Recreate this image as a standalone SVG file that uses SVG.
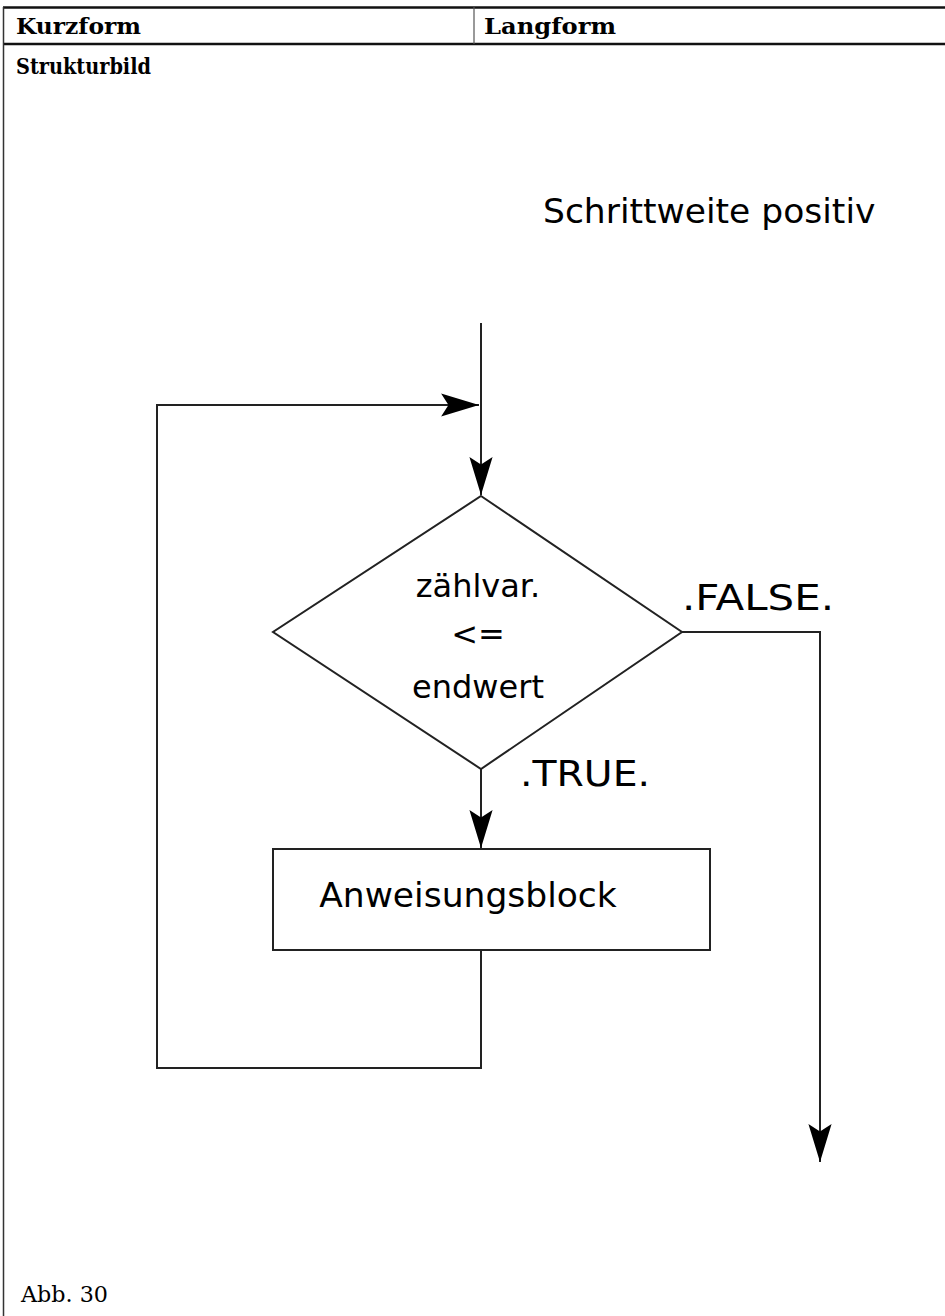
<svg xmlns="http://www.w3.org/2000/svg" width="945" height="1316" viewBox="0 0 945 1316">
  <style>
    .hdr { font-family: "DejaVu Serif", "Liberation Serif", serif; font-weight: bold; font-size: 23px; fill: #000; }
    .cap { font-family: "DejaVu Serif", "Liberation Serif", serif; font-size: 22px; fill: #000; }
    .lbl { font-family: "DejaVu Sans", "Liberation Sans", sans-serif; font-size: 34.5px; fill: #000; }
    .big { font-family: "DejaVu Sans", "Liberation Sans", sans-serif; font-size: 36px; fill: #000; }
    .dlb { font-family: "DejaVu Sans", "Liberation Sans", sans-serif; font-size: 32px; fill: #000; text-anchor: middle; }
    .shape { fill: #fff; stroke: #222; stroke-width: 2; }
    .wire { fill: none; stroke: #222; stroke-width: 2; }
    .rule { stroke: #111; stroke-width: 2.5; }
  </style>
  <defs>
    <marker id="head" markerUnits="userSpaceOnUse" markerWidth="40" markerHeight="26" viewBox="-36 -12 38 24" refX="0" refY="0" orient="auto">
      <path d="M0,0 L-36,-11 L-29,0 L-36,11 Z" fill="#000"/>
    </marker>
  </defs>

  <rect width="945" height="1316" fill="#fff"/>

  <!-- table frame -->
  <g id="table">
    <line class="rule" x1="3" y1="7.5" x2="945" y2="7.5"/>
    <line class="rule" x1="3" y1="44" x2="945" y2="44"/>
    <line x1="3.5" y1="7" x2="3.5" y2="1316" stroke="#333" stroke-width="1.5"/>
    <line x1="474" y1="7" x2="474" y2="44" stroke="#555" stroke-width="1.2"/>
    <text class="hdr" x="16" y="34" textLength="125" lengthAdjust="spacingAndGlyphs">Kurzform</text>
    <text class="hdr" x="484" y="34" textLength="132" lengthAdjust="spacingAndGlyphs">Langform</text>
    <text class="hdr" x="16" y="74" textLength="135" lengthAdjust="spacingAndGlyphs">Strukturbild</text>
    <text class="cap" x="21" y="1302" textLength="87" lengthAdjust="spacingAndGlyphs">Abb. 30</text>
  </g>

  <text id="title" class="lbl" x="543" y="223">Schrittweite positiv</text>

  <!-- connectors -->
  <g id="connectors">
    <polyline class="wire" points="481,949 481,1068 157,1068 157,405 479,405" marker-end="url(#head)"/>
    <line class="wire" x1="481" y1="323" x2="481" y2="495" marker-end="url(#head)"/>
    <line class="wire" x1="481" y1="769" x2="481" y2="848" marker-end="url(#head)"/>
    <polyline class="wire" points="682,632 820,632 820,1162" marker-end="url(#head)"/>
    <text class="big" x="682" y="610" textLength="152" lengthAdjust="spacingAndGlyphs">.FALSE.</text>
    <text class="big" x="520" y="786" textLength="130" lengthAdjust="spacingAndGlyphs">.TRUE.</text>
  </g>

  <g id="condition">
    <polygon class="shape" points="481,496 682,632 481,769 273,632"/>
    <text class="dlb" x="478" y="597">zählvar.</text>
    <text class="dlb" x="478" y="645">&lt;=</text>
    <text class="dlb" x="478" y="698">endwert</text>
  </g>

  <g id="block">
    <rect class="shape" x="273" y="849" width="437" height="101"/>
    <text class="lbl" x="468" y="907" text-anchor="middle">Anweisungsblock</text>
  </g>
</svg>
